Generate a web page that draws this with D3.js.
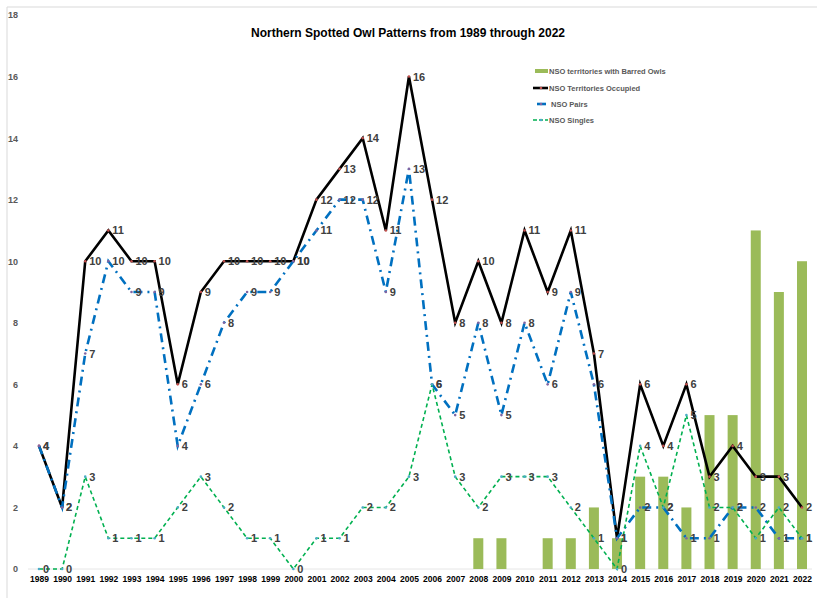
<!DOCTYPE html>
<html><head><meta charset="utf-8">
<script src="https://cdn.jsdelivr.net/npm/d3@7"></script>
<style>body{margin:0;background:#fff}svg{display:block;font-family:"Liberation Sans",Arial,sans-serif}</style>
</head><body>
<svg id="c" width="817" height="598"></svg>
<script>
const years = [1989,1990,1991,1992,1993,1994,1995,1996,1997,1998,1999,2000,2001,2002,2003,2004,2005,2006,2007,2008,2009,2010,2011,2012,2013,2014,2015,2016,2017,2018,2019,2020,2021,2022];
const occupied = [4,2,10,11,10,10,6,9,10,10,10,10,12,13,14,11,16,12,8,10,8,11,9,11,7,1,6,4,6,3,4,3,3,2];
const pairs = [4,2,7,10,9,9,4,6,8,9,9,10,11,12,12,9,13,6,5,8,5,8,6,9,6,1,2,2,1,1,2,2,1,1];
const singles = [0,0,3,1,1,1,2,3,2,1,1,0,1,1,2,2,3,6,3,2,3,3,3,2,1,0,4,2,5,2,2,1,2,1];
const barred = [0,0,0,0,0,0,0,0,0,0,0,0,0,0,0,0,0,0,0,1,1,0,1,1,2,1,3,3,2,5,5,11,9,10];
const yTicks = [0,2,4,6,8,10,12,14,16,18];
const title = "Northern Spotted Owl Patterns from 1989 through 2022";
const legendNames = ["NSO territories with Barred Owls","NSO Territories Occupied","NSO Pairs","NSO Singles"];

const svg = d3.select("#c");
const x = d3.scalePoint().domain(years).range([39, 802]);
const y = d3.scaleLinear().domain([0, 18]).range([569, 15]);

// border
svg.append("line").attr("x1",7).attr("x2",7).attr("y1",7).attr("y2",598).attr("stroke","#d9d9d9");
svg.append("line").attr("x1",7).attr("x2",817).attr("y1",7).attr("y2",7).attr("stroke","#d9d9d9");

// baseline
svg.append("line").attr("x1",28).attr("x2",812).attr("y1",y(0)).attr("y2",y(0)).attr("stroke","#e6e6e6");

// y axis labels
const yAxis = d3.axisLeft(y).tickValues(yTicks).tickSize(0).tickPadding(0);
const gy = svg.append("g").attr("transform","translate(18,0)").call(yAxis);
gy.select(".domain").remove();
gy.selectAll("text").attr("fill","#595959").attr("font-size",9).attr("font-weight","bold").attr("font-family","Liberation Sans, Arial, sans-serif");

// x axis labels
const xAxis = d3.axisBottom(x).tickSize(0).tickPadding(0);
const gx = svg.append("g").attr("transform","translate(0,576)").call(xAxis);
gx.select(".domain").remove();
gx.selectAll("text").attr("fill","#000").attr("font-size",8.5).attr("font-weight","bold").attr("font-family","Liberation Sans, Arial, sans-serif");

// title
svg.append("text").attr("x",408).attr("y",37).attr("text-anchor","middle").attr("font-size",12).attr("font-weight","bold").attr("fill","#000").text(title);

// bars
const bw = 10;
svg.append("g").selectAll("rect").data(years.map((yr,i)=>({yr,v:barred[i]})).filter(d=>d.v>0)).join("rect")
  .attr("x",d=>x(d.yr)-bw/2).attr("width",bw).attr("y",d=>y(d.v)).attr("height",d=>y(0)-y(d.v)).attr("fill","#9bbb59");

const series = [
  {vals:occupied, color:"#000", width:2.6, dash:null, marker:"#c0504d"},
  {vals:pairs, color:"#0070c0", width:2.6, dash:"9,5,2,5", marker:"#8064a2"},
  {vals:singles, color:"#00b050", width:1.6, dash:"4,3", marker:"#4bacc6"}
];
const line = d3.line().x(d=>x(d.yr)).y(d=>y(d.v));
series.forEach(s=>{
  const data = years.map((yr,i)=>({yr,v:s.vals[i]}));
  svg.append("path").datum(data).attr("d",line).attr("fill","none").attr("stroke",s.color)
    .attr("stroke-width",s.width).attr("stroke-dasharray",s.dash).attr("stroke-linejoin","miter");
  svg.append("g").selectAll("circle").data(data).join("circle")
    .attr("cx",d=>x(d.yr)).attr("cy",d=>y(d.v)).attr("r",1.3).attr("fill",s.marker);
});
series.forEach(s=>{
  const data = years.map((yr,i)=>({yr,v:s.vals[i]}));
  svg.append("g").selectAll("text").data(data).join("text")
    .attr("x",d=>x(d.yr)+4).attr("y",d=>y(d.v)+4).attr("font-size",11).attr("font-weight","bold")
    .attr("fill","#404040").text(d=>d.v);
});

// legend
const lg = svg.append("g");
const ly = [71,88,104,120];
lg.append("rect").attr("x",535).attr("y",ly[0]-2).attr("width",13).attr("height",4).attr("fill","#9bbb59");
const lcols = [null,"#000","#0070c0","#00b050"];
const lmk = [null,"#c0504d","#8064a2","#4bacc6"];
const lw = [0,2.6,2.6,1.6];
[1,2,3].forEach(i=>{
  if(i===2){
    lg.append("line").attr("x1",537).attr("x2",546).attr("y1",ly[i]).attr("y2",ly[i]).attr("stroke",lcols[i]).attr("stroke-width",lw[i]);
  } else {
    lg.append("line").attr("x1",533).attr("x2",548).attr("y1",ly[i]).attr("y2",ly[i]).attr("stroke",lcols[i]).attr("stroke-width",lw[i]).attr("stroke-dasharray",i===3?"4,2":null);
  }
  lg.append("circle").attr("cx",541).attr("cy",ly[i]).attr("r",1.3).attr("fill",lmk[i]);
});
lg.selectAll("text").data(legendNames).join("text")
  .attr("x",(d,i)=>i===2?551:549).attr("y",(d,i)=>ly[i]+3).attr("font-size",7.5).attr("font-weight","bold").attr("fill","#595959").text(d=>d);
</script>
</body></html>
